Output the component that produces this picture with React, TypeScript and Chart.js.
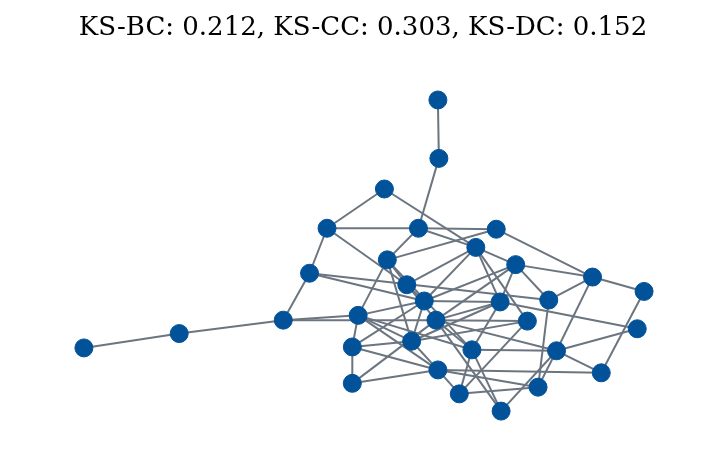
import React, { useEffect, useRef } from 'react';
import { Chart, registerables } from 'chart.js';

Chart.register(...registerables);

const titleText = 'KS-BC: 0.212, KS-CC: 0.303, KS-DC: 0.152';

// node positions (layout space 727 x 468)
const nodeNames = ['A','B','C','D','E','F','G','H','I','J','K','L','M','N','O','P','Q','R','S','T','U','V','W','X','Y','Z','a','b','c','d','e','f','g'];
const nodeX = [440,441,385,326,420,500,479,388,520,308,408,599,652,426,504,554,281,358,438,532,645,352,413,475,562,352,440,608,462,543,505,174,76];
const nodeY = [94,155,187,228,228,229,248,261,266,275,287,279,294,304,305,303,324,319,324,325,333,352,346,355,356,390,376,379,401,394,419,338,353];

const edges = [
    'A-B','B-E','C-D','C-G','D-E','D-J','D-K','E-F','E-G','E-H','F-H','F-L','G-I','G-O','G-T','G-N','G-K',
    'I-P','I-L','L-M','L-P','L-Y','M-b','J-N','J-P','I-N','I-O','I-S','H-K','H-R','H-W','H-X','K-N','K-S',
    'N-O','N-V','N-W','N-R','Q-R','Q-S','Q-J','Q-f','f-g','R-V','R-X','R-W','S-O','S-T','S-X','S-Y','S-e',
    'S-Z','O-W','O-X','T-W','T-c','U-Y','O-U','V-W','V-Z','V-a','W-a','X-Y','X-c','X-e','Y-b','Y-d','a-b',
    'a-d','a-c','a-Z','R-a','P-d','Y-e','c-d',
];

const App: React.FC = () => {
    const canvasRef = useRef<HTMLCanvasElement | null>(null);

    useEffect(() => {
        document.body.style.margin = '0';
        if (!canvasRef.current) return;
        const ctx = canvasRef.current.getContext('2d');
        if (!ctx) return;

        const pt = (n: string) => {
            const i = nodeNames.indexOf(n);
            return { x: nodeX[i], y: nodeY[i] };
        };

        const edgeSets = edges.map(e => {
            const [a, b] = e.split('-');
            return {
                type: 'scatter' as const,
                data: [pt(a), pt(b)],
                showLine: true,
                borderColor: '#6b7580',
                borderWidth: 2,
                pointRadius: 0,
                order: 1,
            };
        });

        const titlePlugin = {
            id: 'topTitle',
            afterDraw(chart: Chart) {
                const c = chart.ctx;
                c.save();
                c.fillStyle = '#000';
                c.font = '26px "DejaVu Serif", serif';
                c.textAlign = 'center';
                c.textBaseline = 'middle';
                c.fillText(titleText, 363, 28);
                c.restore();
            },
        };

        const chart = new Chart(ctx, {
            type: 'scatter',
            data: {
                datasets: [
                    {
                        data: nodeNames.map((_, i) => ({ x: nodeX[i], y: nodeY[i] })),
                        backgroundColor: '#02529a',
                        borderColor: '#02529a',
                        pointRadius: 9,
                        order: 0,
                    },
                    ...edgeSets,
                ],
            },
            options: {
                animation: false,
                responsive: false,
                layout: { padding: 0 },
                plugins: { legend: { display: false }, tooltip: { enabled: false } },
                scales: {
                    x: { type: 'linear', min: 0, max: 727, display: false },
                    y: { type: 'linear', min: 0, max: 468, reverse: true, display: false },
                },
            },
            plugins: [titlePlugin],
        });

        return () => {
            chart.destroy();
        };
    }, []);

    return <canvas ref={canvasRef} width={727} height={468} style={{ display: 'block' }} />;
};

export default App;
